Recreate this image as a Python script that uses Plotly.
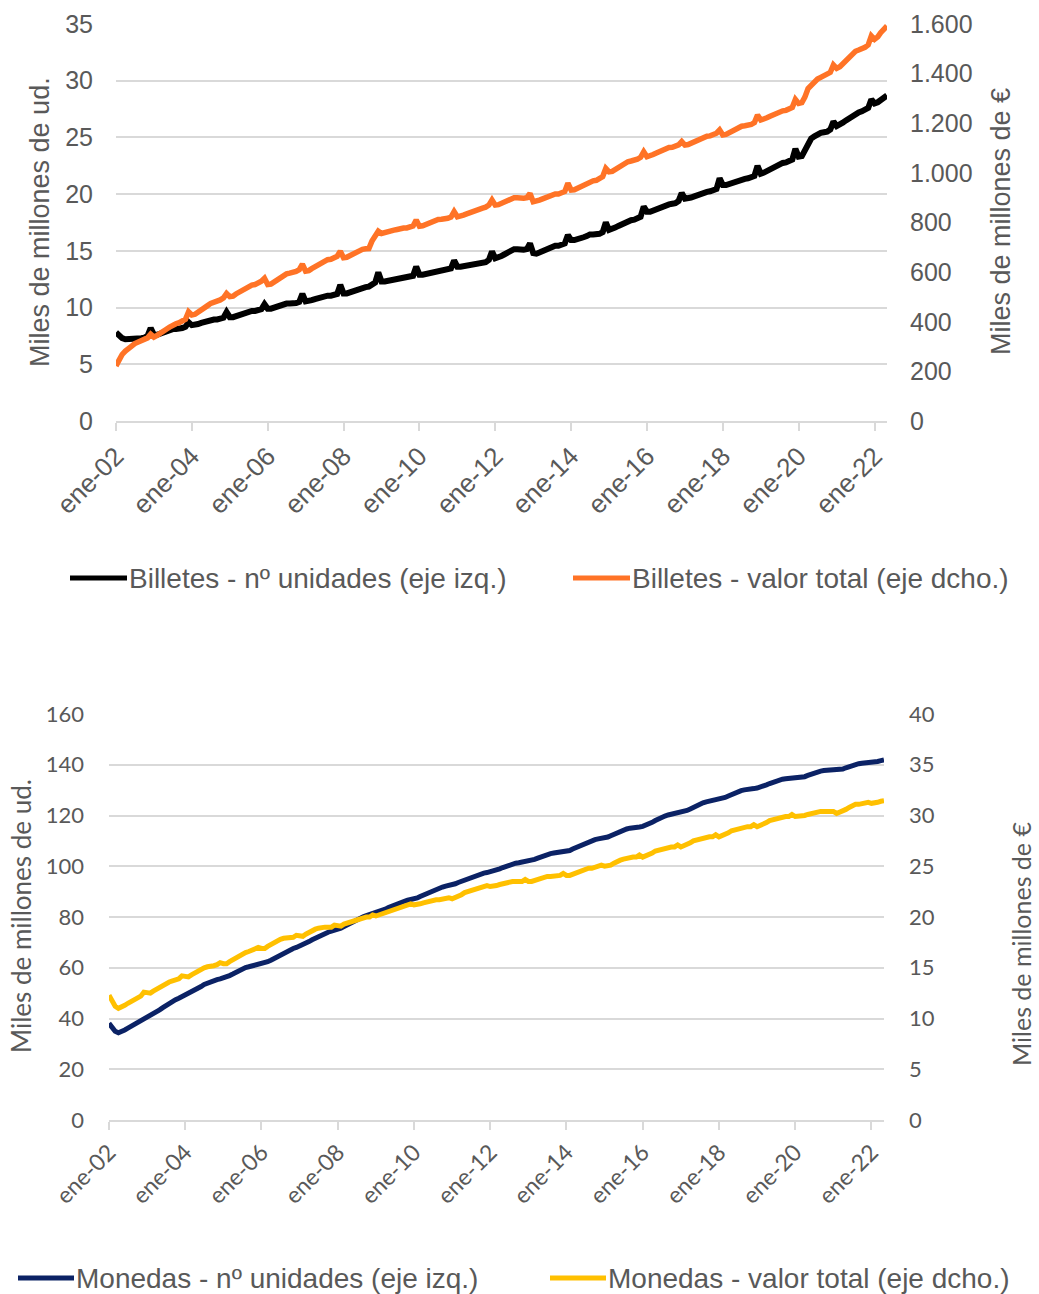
import pandas as pd
import plotly.graph_objects as go

# Monthly observations, January 2002 - May 2022 (one row per year)
months = pd.date_range("2002-01-01", "2022-05-01", freq="MS")

# Banknotes in circulation: number of units (thousand millions)
billetes_unidades = [
    7.8, 7.5, 7.3, 7.2, 7.2, 7.25, 7.3, 7.3, 7.3, 7.35, 7.5, 8.2,
    7.6, 7.6, 7.7, 7.8, 7.9, 8.0, 8.1, 8.1, 8.1, 8.2, 8.3, 8.7,
    8.45, 8.45, 8.55, 8.65, 8.75, 8.85, 8.95, 8.95, 8.95, 9.0, 9.1, 9.6,
    9.15, 9.15, 9.25, 9.35, 9.45, 9.55, 9.7, 9.7, 9.7, 9.75, 9.85, 10.3,
    9.9, 9.9, 10.0, 10.05, 10.15, 10.25, 10.35, 10.35, 10.35, 10.4, 10.5, 11.2,
    10.55, 10.55, 10.65, 10.75, 10.85, 10.95, 11.05, 11.05, 11.05, 11.1, 11.2, 12.0,
    11.25, 11.25, 11.35, 11.45, 11.55, 11.65, 11.8, 11.8, 11.85, 12.0, 12.2, 13.1,
    12.3, 12.3, 12.35, 12.45, 12.5, 12.55, 12.65, 12.65, 12.65, 12.7, 12.8, 13.6,
    12.9, 12.9, 12.95, 13.0, 13.05, 13.15, 13.25, 13.25, 13.25, 13.3, 13.45, 14.15,
    13.6, 13.6, 13.65, 13.7, 13.75, 13.8, 13.9, 13.9, 13.95, 14.0, 14.2, 14.95,
    14.35, 14.4, 14.55, 14.7, 14.85, 15.0, 15.15, 15.15, 15.1, 15.1, 15.15, 15.65,
    14.8, 14.75, 14.85, 15.0, 15.1, 15.25, 15.4, 15.45, 15.45, 15.5, 15.65, 16.4,
    15.95, 15.95, 16.0, 16.1, 16.2, 16.3, 16.45, 16.45, 16.45, 16.5, 16.65, 17.5,
    16.85, 16.9, 17.05, 17.2, 17.35, 17.5, 17.65, 17.7, 17.75, 17.85, 18.0, 18.9,
    18.45, 18.45, 18.55, 18.7, 18.8, 18.95, 19.1, 19.1, 19.15, 19.2, 19.4, 20.1,
    19.6, 19.6, 19.7, 19.8, 19.9, 20.05, 20.2, 20.2, 20.25, 20.3, 20.45, 21.4,
    20.8, 20.8, 20.9, 21.0, 21.1, 21.2, 21.35, 21.35, 21.4, 21.45, 21.6, 22.5,
    21.8, 21.9, 22.05, 22.2, 22.35, 22.5, 22.7, 22.75, 22.8, 22.9, 23.05, 24.0,
    23.3, 23.35, 23.9, 24.5, 24.9, 25.1, 25.3, 25.4, 25.45, 25.5, 25.7, 26.4,
    26.0, 26.1, 26.3, 26.5, 26.7, 26.9, 27.1, 27.2, 27.3, 27.4, 27.6, 28.35,
    28.0, 28.1, 28.3, 28.5, 28.7,
]

# Banknotes in circulation: total value (thousand million euro)
billetes_valor = [
    222, 250, 268, 282, 295, 302, 312, 318, 324, 330, 335, 350,
    338, 345, 355, 362, 370, 378, 388, 392, 396, 402, 410, 440,
    427, 430, 440, 448, 456, 465, 474, 478, 482, 488, 496, 514,
    501, 503, 512, 520, 528, 536, 545, 548, 550, 555, 563, 575,
    550, 552, 560, 568, 576, 584, 593, 596, 598, 603, 610, 632,
    604, 606, 614, 622, 630, 638, 647, 650, 652, 656, 664, 684,
    658, 660, 667, 673, 678, 684, 692, 694, 695, 725, 748, 765,
    756, 758, 763, 766, 769, 772, 777, 778, 778, 781, 786, 810,
    785, 787, 792, 797, 801, 806, 812, 813, 813, 817, 822, 844,
    823, 825, 830, 835, 840, 845, 853, 856, 858, 862, 870, 891,
    870, 872, 878, 885, 890, 895, 900, 900, 898, 898, 900, 917,
    884, 885, 890, 895, 900, 905, 913, 915, 915, 918, 925, 958,
    931, 932, 938, 945, 952, 958, 966, 968, 970, 975, 985, 1018,
    1004, 1006, 1014, 1022, 1030, 1037, 1045, 1048, 1050, 1055, 1063, 1085,
    1065, 1067, 1074, 1080, 1086, 1092, 1100, 1102, 1103, 1107, 1113, 1126,
    1112, 1114, 1120, 1126, 1132, 1138, 1146, 1148, 1149, 1153, 1160, 1173,
    1153, 1155, 1162, 1168, 1174, 1180, 1188, 1190, 1191, 1195, 1203, 1233,
    1213, 1215, 1222, 1228, 1234, 1240, 1248, 1250, 1252, 1256, 1264, 1296,
    1280, 1283, 1305, 1340, 1355, 1367, 1378, 1385, 1390, 1396, 1405, 1435,
    1421, 1428, 1440, 1452, 1465, 1478, 1490, 1495, 1500, 1506, 1516, 1552,
    1538, 1548, 1565, 1580, 1592,
]

# Coins in circulation: number of units (thousand millions)
monedas_unidades = [
    38.1, 36.4, 35.0, 34.4, 34.8, 35.5, 36.2, 36.9, 37.6, 38.4, 39.2, 40.0,
    40.6, 41.0, 41.7, 42.5, 43.4, 44.3, 45.2, 46.0, 46.7, 47.4, 48.0, 48.6,
    49.3, 49.7, 50.3, 51.0, 51.8, 52.6, 53.4, 54.0, 54.5, 54.9, 55.3, 55.6,
    55.9, 56.3, 56.9, 57.5, 58.2, 58.9, 59.6, 60.1, 60.4, 60.7, 60.9, 61.0,
    61.3, 61.8, 62.4, 63.0, 63.7, 64.4, 65.2, 65.9, 66.5, 67.1, 67.6, 68.0,
    68.5, 69.0, 69.6, 70.3, 71.0, 71.7, 72.4, 73.0, 73.5, 74.0, 74.4, 74.7,
    75.1, 75.6, 76.2, 76.9, 77.6, 78.3, 79.0, 79.6, 80.1, 80.5, 80.9, 81.2,
    81.5, 81.9, 82.5, 83.1, 83.7, 84.3, 84.9, 85.4, 85.8, 86.2, 86.6, 86.8,
    87.1, 87.5, 88.1, 88.7, 89.3, 89.9, 90.5, 91.0, 91.4, 91.8, 92.2, 92.4,
    92.7, 93.1, 93.6, 94.1, 94.7, 95.3, 95.8, 96.3, 96.7, 97.0, 97.3, 97.5,
    97.8, 98.1, 98.5, 99.0, 99.5, 100.0, 100.5, 100.9, 101.2, 101.4, 101.6, 101.7,
    101.9, 102.2, 102.7, 103.2, 103.7, 104.2, 104.7, 105.0, 105.2, 105.4, 105.5, 105.6,
    105.8, 106.2, 106.8, 107.4, 108.0, 108.6, 109.2, 109.7, 110.1, 110.5, 110.8, 110.9,
    111.1, 111.5, 112.0, 112.6, 113.2, 113.8, 114.3, 114.7, 115.0, 115.3, 115.5, 115.5,
    115.7, 116.1, 116.7, 117.3, 118.0, 118.7, 119.3, 119.8, 120.2, 120.5, 120.7, 120.8,
    121.0, 121.4, 122.0, 122.6, 123.3, 123.9, 124.5, 125.0, 125.4, 125.7, 125.9, 126.0,
    126.2, 126.6, 127.1, 127.7, 128.3, 128.9, 129.4, 129.8, 130.1, 130.4, 130.5, 130.6,
    130.8, 131.1, 131.6, 132.1, 132.6, 133.1, 133.6, 134.0, 134.3, 134.5, 134.6, 134.6,
    134.6, 134.8, 135.0, 135.3, 135.8, 136.3, 136.8, 137.2, 137.5, 137.7, 137.8, 137.9,
    137.9, 137.8, 137.9, 138.3, 138.8, 139.3, 139.8, 140.2, 140.4, 140.6, 140.7, 140.8,
    140.8, 141.0, 141.3, 141.6, 141.9,
]

# Coins in circulation: total value (thousand million euro)
monedas_valor = [
    12.3, 11.6, 11.2, 11.0, 11.1, 11.3, 11.5, 11.7, 11.9, 12.0, 12.2, 12.6,
    12.5, 12.5, 12.7, 12.9, 13.1, 13.3, 13.5, 13.6, 13.7, 13.8, 13.9, 14.2,
    14.1, 14.1, 14.3, 14.5, 14.7, 14.9, 15.0, 15.1, 15.1, 15.2, 15.3, 15.5,
    15.4, 15.4, 15.6, 15.8, 16.0, 16.2, 16.4, 16.5, 16.6, 16.7, 16.8, 17.0,
    16.9, 16.9, 17.1, 17.3, 17.5, 17.7, 17.8, 17.9, 17.9, 18.0, 18.0, 18.2,
    18.1, 18.1, 18.3, 18.5, 18.7, 18.8, 18.9, 19.0, 19.0, 19.0, 19.0, 19.2,
    19.1, 19.1, 19.3, 19.4, 19.6, 19.7, 19.8, 19.9, 20.0, 20.0, 20.0, 20.2,
    20.1, 20.2, 20.3, 20.5, 20.6, 20.7, 20.8, 20.9, 21.0, 21.0, 21.1, 21.3,
    21.2, 21.2, 21.3, 21.4, 21.5, 21.6, 21.7, 21.7, 21.7, 21.8, 21.8, 21.9,
    21.8, 21.9, 22.0, 22.2, 22.4, 22.5, 22.6, 22.7, 22.8, 22.8, 22.9, 23.1,
    23.0, 23.0, 23.1, 23.2, 23.3, 23.4, 23.5, 23.5, 23.5, 23.5, 23.5, 23.7,
    23.5, 23.5, 23.6, 23.7, 23.8, 23.9, 24.0, 24.0, 24.0, 24.0, 24.1, 24.3,
    24.1, 24.1, 24.2, 24.4, 24.5, 24.6, 24.7, 24.8, 24.8, 24.9, 24.9, 25.1,
    25.0, 25.0, 25.1, 25.3, 25.5, 25.6, 25.7, 25.8, 25.8, 25.9, 25.9, 26.1,
    25.9, 26.0, 26.1, 26.3, 26.5, 26.6, 26.7, 26.8, 26.8, 26.9, 26.9, 27.1,
    26.9, 27.0, 27.1, 27.3, 27.5, 27.6, 27.7, 27.8, 27.8, 27.9, 27.9, 28.1,
    27.9, 28.0, 28.1, 28.3, 28.5, 28.6, 28.7, 28.8, 28.8, 28.9, 28.9, 29.1,
    28.9, 29.0, 29.1, 29.3, 29.5, 29.6, 29.7, 29.8, 29.8, 29.9, 29.9, 30.1,
    29.9, 29.9, 30.0, 30.0, 30.1, 30.2, 30.3, 30.4, 30.4, 30.4, 30.4, 30.5,
    30.4, 30.2, 30.3, 30.4, 30.6, 30.8, 31.0, 31.1, 31.1, 31.2, 31.2, 31.3,
    31.2, 31.2, 31.3, 31.4, 31.45,
]

# Axis ticks
tick_dates = [f"{y}-01-01" for y in range(2002, 2023, 2)]
tick_labels = [f"ene-{y % 100:02d}" for y in range(2002, 2023, 2)]

series_names = [
    "Billetes - nº unidades (eje izq.)",
    "Billetes - valor total (eje dcho.)",
    "Monedas - nº unidades (eje izq.)",
    "Monedas - valor total (eje dcho.)",
]
colors = ["#000000", "#FF7326", "#0B2265", "#FFC000"]

W, H = 1039, 1294
GRID = "#D9D9D9"
TXT = "#595959"
ARIAL = "Liberation Sans, Arial, sans-serif"
CALIBRI = "Lato, Carlito, Calibri, sans-serif"


def px(x):
    return x / W


def py(y):
    return 1 - y / H


fig = go.Figure()
fig.add_trace(go.Scatter(x=months, y=billetes_unidades, name=series_names[0],
                         mode="lines", line=dict(color=colors[0], width=6),
                         xaxis="x", yaxis="y"))
fig.add_trace(go.Scatter(x=months, y=billetes_valor, name=series_names[1],
                         mode="lines", line=dict(color=colors[1], width=5.5),
                         xaxis="x", yaxis="y2"))
fig.add_trace(go.Scatter(x=months, y=monedas_unidades, name=series_names[2],
                         mode="lines", line=dict(color=colors[2], width=5),
                         xaxis="x2", yaxis="y3"))
fig.add_trace(go.Scatter(x=months, y=monedas_valor, name=series_names[3],
                         mode="lines", line=dict(color=colors[3], width=5),
                         xaxis="x2", yaxis="y4"))

x_range = ["2002-01-01", "2022-05-01"]
top_dom_x = [px(116), px(887)]
top_dom_y = [py(421), py(24)]
bot_dom_x = [px(109), px(884)]
bot_dom_y = [py(1120), py(714)]


def xaxis_cfg(domain, anchor, font_family, size):
    return dict(domain=domain, anchor=anchor, type="date", range=x_range,
                automargin=False,
                tickmode="array", tickvals=tick_dates, ticktext=tick_labels,
                tickangle=-45, ticks="outside", ticklen=8, tickwidth=1.5,
                tickcolor=GRID, showline=True, linecolor=GRID, linewidth=1.5,
                showgrid=False, zeroline=False,
                tickfont=dict(family=font_family, size=size, color=TXT))


def yaxis_cfg(domain, anchor, rng, dtick, side, font_family, size, standoff, **kw):
    cfg = dict(domain=domain, anchor=anchor, range=rng, dtick=dtick, tick0=0,
               automargin=False,
               side=side, showgrid=(side == "left"), gridcolor=GRID, gridwidth=1.5,
               zeroline=False, showline=False, ticks="",
               ticklabelstandoff=standoff,
               tickfont=dict(family=font_family, size=size, color=TXT))
    cfg.update(kw)
    return cfg


fig.update_layout(
    width=W, height=H,
    margin=dict(l=0, r=0, t=0, b=0),
    paper_bgcolor="white", plot_bgcolor="white",
    separators=",.",
    showlegend=False,
    xaxis=xaxis_cfg(top_dom_x, "y", ARIAL, 26),
    yaxis=yaxis_cfg(top_dom_y, "x", [0, 35], 5, "left", ARIAL, 25, 22),
    yaxis2=yaxis_cfg(top_dom_y, "x", [0, 1600], 200, "right", ARIAL, 25, 22,
                     overlaying="y", tickformat=",d"),
    xaxis2=xaxis_cfg(bot_dom_x, "y3", CALIBRI, 23),
    yaxis3=yaxis_cfg(bot_dom_y, "x2", [0, 160], 20, "left", CALIBRI, 22, 24),
    yaxis4=yaxis_cfg(bot_dom_y, "x2", [0, 40], 5, "right", CALIBRI, 22, 24,
                     overlaying="y3"),
)

# Axis titles
titles = [
    ("Miles de millones de ud.", 40, 222, ARIAL, 27),
    ("Miles de millones de €", 1001, 222, ARIAL, 27),
    ("Miles de millones de ud.", 21, 916, CALIBRI, 26),
    ("Miles de millones de €", 1021, 944, CALIBRI, 25),
]
for text, x, y, fam, size in titles:
    fig.add_annotation(text=text, x=px(x), y=py(y), xref="paper", yref="paper",
                       textangle=-90, showarrow=False, xanchor="center",
                       yanchor="middle", font=dict(family=fam, size=size, color=TXT))

# Legends (line sample + label) below each chart
legend_items = [
    (series_names[0], colors[0], 70, 127, 578),
    (series_names[1], colors[1], 573, 630, 578),
    (series_names[2], colors[2], 18, 74, 1278),
    (series_names[3], colors[3], 550, 606, 1278),
]
for text, color, x0, x1, y in legend_items:
    fig.add_shape(type="line", xref="paper", yref="paper",
                  x0=px(x0), x1=px(x1), y0=py(y), y1=py(y),
                  line=dict(color=color, width=5))
    fig.add_annotation(text=text, x=px(x1), y=py(y), xref="paper", yref="paper",
                       showarrow=False, xanchor="left", yanchor="middle",
                       font=dict(family=ARIAL, size=28, color=TXT))

fig.write_html("out.html")
